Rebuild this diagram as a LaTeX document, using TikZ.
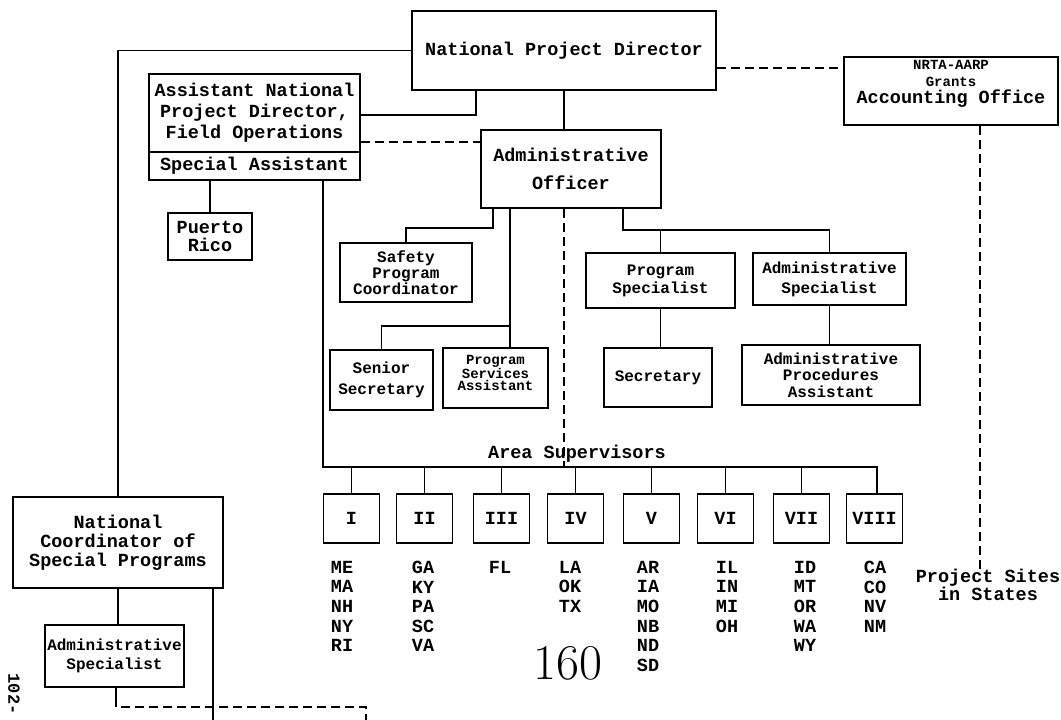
\documentclass[tikz,border=0pt]{standalone}
\usepackage{fontspec}
\newfontfamily\tw{Liberation Mono}
\usetikzlibrary{calc}
\begin{document}
\begin{tikzpicture}[x=1pt,y=-1pt,
  box/.style={draw, line width=1.8pt, inner sep=0pt, align=center},
  fbig/.style={font=\tw\bfseries\fontsize{18.5}{#1}\selectfont},
  fsmall/.style={font=\tw\bfseries\fontsize{16}{#1}\selectfont},
  region/.style={box, fbig=20, minimum width=56, minimum height=49},
  states/.style={fbig=19.6, align=center, anchor=north, inner sep=0pt},
  conn/.style={line width=1.6pt},
  dsh/.style={line width=1.6pt, dash pattern=on 9pt off 5pt}]
\useasboundingbox (0,0) rectangle (1061,720);

% boxes
\node[box, fbig=21, minimum width=304, minimum height=79] (npd) at (564,50.5) {National Project Director};
\node[box, fbig=21, minimum width=211, minimum height=78] (asst) at (254.5,113) {Assistant National\\Project Director,\\Field Operations};
\node[box, fbig=21, minimum width=211, minimum height=28] (spec) at (254.5,166) {Special Assistant};
\node[box, fbig=18, minimum width=84, minimum height=47] (puerto) at (210,236.5) {Puerto\\Rico};
\node[box, fbig=28, minimum width=180, minimum height=78] (ao) at (571,169) {Administrative\\Officer};
\node[box, minimum width=214, minimum height=68] (nrta) at (951,91) {};
\node[align=center, inner sep=0pt, font=\tw\bfseries\fontsize{14}{17}\selectfont] (nrtat) at (951,84) {NRTA-AARP\\Grants\\{\fontsize{18.5}{17}\selectfont Accounting Office}};
\node[box, fsmall=16, minimum width=132, minimum height=59] (safety) at (406,272.5) {Safety\\Program\\Coordinator};
\node[box, fsmall=21, minimum width=103, minimum height=60] (senior) at (381.5,380) {Senior\\Secretary};
\node[box, minimum width=105, minimum height=60] (psa) at (495.5,378) {};
\node[align=center, inner sep=0pt, font=\tw\bfseries\fontsize{14}{12}\selectfont] (psat) at (495.5,373) {Program\\Services\\Assistant};
\node[box, fsmall=18, minimum width=149, minimum height=55] (ps) at (660.5,280.5) {Program\\Specialist};
\node[box, fsmall=20, minimum width=153, minimum height=52] (asr) at (829.5,279) {Administrative\\Specialist};
\node[box, fsmall=16, minimum width=108, minimum height=59] (sec) at (658,377.5) {Secretary};
\node[box, fsmall=16.5, minimum width=178, minimum height=60] (apa) at (831,375) {Administrative\\Procedures\\Assistant};
\node[box, fbig=19, minimum width=210, minimum height=91] (nc) at (118,542.5) {National\\Coordinator of\\Special Programs};
\node[box, fsmall=19, minimum width=139, minimum height=62] (asl) at (114.5,656) {Administrative\\Specialist};

% regions
\node[region] (r1) at (351.5,518.5) {I};
\node[region] (r2) at (424.5,518.5) {II};
\node[region] (r3) at (501.5,518.5) {III};
\node[region] (r4) at (575.5,518.5) {IV};
\node[region] (r5) at (651.5,518.5) {V};
\node[region] (r6) at (725.5,518.5) {VI};
\node[region] (r7) at (801.5,518.5) {VII};
\node[region] (r8) at (874.5,518.5) {VIII};

% state lists
\node[states] (s1) at (342,561) {ME\\MA\\NH\\NY\\RI};
\node[states] (s2) at (423,561) {GA\\KY\\PA\\SC\\VA};
\node[states] (s3) at (500,561) {FL};
\node[states] (s4) at (570,561) {LA\\OK\\TX};
\node[states] (s5) at (648,561) {AR\\IA\\MO\\NB\\ND\\SD};
\node[states] (s6) at (727,561) {IL\\IN\\MI\\OH};
\node[states] (s7) at (805,561) {ID\\MT\\OR\\WA\\WY};
\node[states] (s8) at (875,561) {CA\\CO\\NV\\NM};

% free texts
\node[fbig=20, inner sep=0pt] (asup) at (577,454) {Area Supervisors};
\node[fbig=18, align=center, anchor=north, inner sep=0pt] (sites) at (988,569) {Project Sites\\in States};
\node[font=\fontsize{50}{50}\selectfont, inner sep=0pt] (pg) at (568,663) {160};
\node[font=\tw\bfseries\fontsize{17}{17}\selectfont, rotate=-90, inner sep=0pt] (pn) at (14,694) {102-};

% helper coordinates
\coordinate (j1) at (476,115);
\coordinate (y68) at (0,68);
\coordinate (y142) at (0,142);
\coordinate (xs) at (980,0);
\coordinate (s0) at (323,467);
\coordinate (sE) at (877,467);
\coordinate (l1) at (493,228);
\coordinate (l2) at (510,326);
\coordinate (k1) at (623,230);
\coordinate (dv) at (564,467);
\coordinate (b1) at (213,720);
\coordinate (c1) at (116,698);
\coordinate (c2) at (366,707);
\coordinate (c3) at (366,720);

% connectors
\draw[conn] (npd.west) -| (nc.north);
\draw[conn] (npd.south -| j1) -- (j1) -- (j1 -| asst.east);
\draw[conn] (npd.south) -- (npd.south |- ao.north);
\draw[dsh] (npd.east |- y68) -- (nrta.west |- y68);
\draw[dsh] (asst.east |- y142) -- (ao.west |- y142);
\draw[dsh] (nrta.south -| xs) -- (sites.north -| xs);
\draw[conn] (spec.south -| puerto.north) -- (puerto.north);
\draw[conn] (spec.south -| s0) -- (s0) -- (sE) -- (sE |- r8.north);
\foreach \i in {1,...,7} \draw[conn] (r\i.north |- s0) -- (r\i.north);
\draw[conn] (ao.south -| l1) -- (l1) -| (safety.north);
\draw[conn] (ao.south -| l2) -- (l2 |- psa.north);
\draw[conn] (l2) -| (senior.north);
\draw[conn] (ao.south -| k1) -- (k1) -| (asr.north);
\draw[conn] (ps.north) -- (ps.north |- k1);
\draw[conn] (ps.south) -- (ps.south |- sec.north);
\draw[conn] (asr.south) -- (asr.south |- apa.north);
\draw[dsh] (ao.south -| dv) -- (dv);
\draw[conn] (nc.south) -- (nc.south |- asl.north);
\draw[conn] (nc.south -| b1) -- (b1);
\draw[conn] (asl.south -| c1) -- (c1);
\draw[dsh] (c1) |- (c2) -- (c3);
\end{tikzpicture}
\end{document}
